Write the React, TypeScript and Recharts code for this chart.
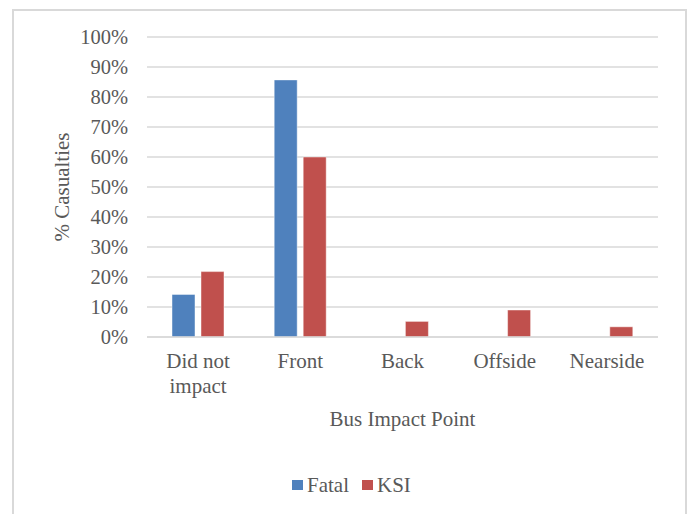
import React from 'react';
import { BarChart, Bar, XAxis, YAxis, CartesianGrid, Text } from 'recharts';

const categories = ['Did not impact', 'Front', 'Back', 'Offside', 'Nearside'];
const fatalValues = [14.2, 85.7, 0, 0, 0];
const ksiValues = [21.8, 60, 5.2, 9.0, 3.4];
const yTicks = [0, 10, 20, 30, 40, 50, 60, 70, 80, 90, 100];

const series = [
  { key: 'fatal', name: 'Fatal', color: '#4F81BD' },
  { key: 'ksi', name: 'KSI', color: '#C0504D' },
];

const data = categories.map((name, i) => ({
  name,
  fatal: fatalValues[i],
  ksi: ksiValues[i],
}));

const FONT = '"Liberation Serif", "Times New Roman", serif';
const TEXT_COLOR = '#595959';
const FONT_SIZE = 21;
const TICK_SIZE = 20.5;

const CategoryTick = (props: any) => {
  const { x, y, payload } = props;
  return (
    <Text
      x={x}
      y={y}
      width={90}
      textAnchor="middle"
      verticalAnchor="start"
      lineHeight={25}
      fill={TEXT_COLOR}
      fontSize={FONT_SIZE}
      fontFamily={FONT}
    >
      {payload.value}
    </Text>
  );
};

const App = () => {
  return (
    <div
      style={{
        position: 'absolute',
        left: 0,
        top: 0,
        width: 688,
        height: 514,
        overflow: 'hidden',
        background: '#fff',
        fontFamily: FONT,
      }}
    >
      <div
        style={{
          position: 'absolute',
          left: 12,
          top: 9,
          width: 671,
          height: 530,
          border: '2px solid #D9D9D9',
        }}
      />
      <div style={{ position: 'absolute', left: 0, top: 0 }}>
        <BarChart
          width={688}
          height={514}
          data={data}
          margin={{ top: 37, right: 30, left: 0, bottom: 77 }}
          barGap={6}
          barCategoryGap={25}
        >
          <CartesianGrid vertical={false} stroke="#D9D9D9" strokeWidth={1.3} />
          <XAxis
            dataKey="name"
            height={100}
            axisLine={{ stroke: '#D9D9D9', strokeWidth: 1.3 }}
            tickLine={false}
            tickSize={0}
            tickMargin={16}
            interval={0}
            tick={<CategoryTick />}
            label={{
              value: 'Bus Impact Point',
              position: 'insideTop',
              offset: 74,
              fill: TEXT_COLOR,
              fontSize: FONT_SIZE,
              fontFamily: FONT,
            }}
          />
          <YAxis
            width={147}
            domain={[0, 100]}
            ticks={yTicks}
            interval={0}
            axisLine={false}
            tickLine={false}
            tickSize={0}
            tickMargin={19}
            tickFormatter={(v) => `${v}%`}
            tick={{ fill: TEXT_COLOR, fontSize: TICK_SIZE, fontFamily: FONT }}
            label={{
              value: '% Casualties',
              angle: -90,
              position: 'center',
              dx: -12,
              fill: TEXT_COLOR,
              fontSize: FONT_SIZE,
              fontFamily: FONT,
            }}
          />
          {series.map((s) => (
            <Bar
              key={s.key}
              dataKey={s.key}
              name={s.name}
              fill={s.color}
              stroke="#ffffff"
              strokeOpacity={0.45}
              strokeWidth={1}
              isAnimationActive={false}
            />
          ))}
        </BarChart>
      </div>
      <div
        style={{
          position: 'absolute',
          left: 292,
          top: 474,
          display: 'flex',
          alignItems: 'center',
          height: 22,
          fontSize: FONT_SIZE,
          color: TEXT_COLOR,
          lineHeight: '22px',
        }}
      >
        {series.map((s) => (
          <div key={s.key} style={{ display: 'flex', alignItems: 'center', marginRight: 13 }}>
            <span
              style={{
                display: 'inline-block',
                width: 10.5,
                height: 10.5,
                background: s.color,
                marginRight: 4.5,
              }}
            />
            <span>{s.name}</span>
          </div>
        ))}
      </div>
    </div>
  );
};

export default App;
